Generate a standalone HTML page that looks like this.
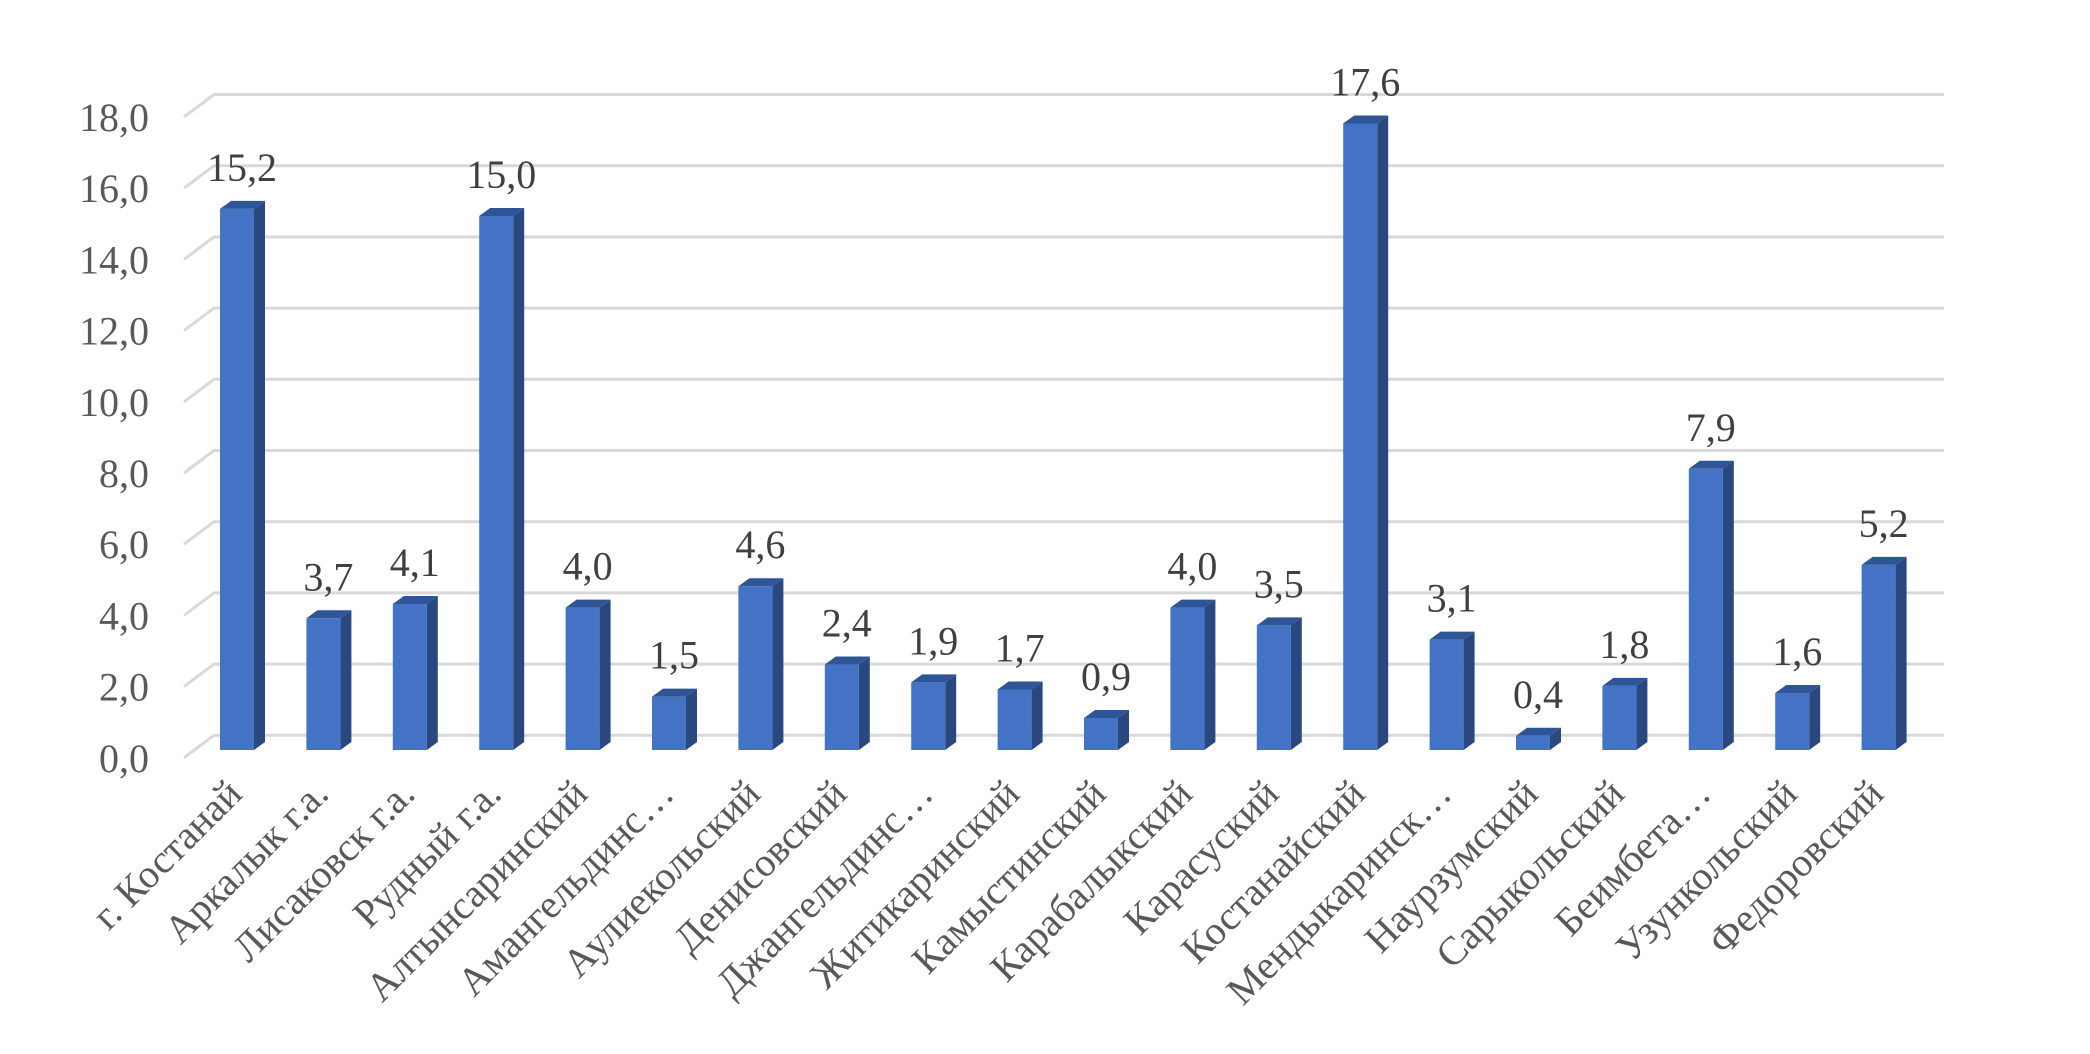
<!DOCTYPE html>
<html><head><meta charset="utf-8"><style>html,body{margin:0;padding:0;background:#fff;}svg{display:block;}</style></head>
<body>
<svg width="2090" height="1054" viewBox="0 0 2090 1054" xmlns="http://www.w3.org/2000/svg" font-family="Liberation Serif, serif">
<g id="grid" stroke="#d9d9d9" stroke-width="3" fill="none"></g>
<g id="yl" font-size="40" fill="#595959" text-anchor="end"></g>
<g id="bars"></g>
<g id="vl" font-size="40" fill="#404040" text-anchor="middle"></g>
<g id="xl" font-size="40" fill="#595959" text-anchor="end"></g>
<script>
var NS="http://www.w3.org/2000/svg";
function el(p,t,a,txt){var e=document.createElementNS(NS,t);for(var k in a)e.setAttribute(k,a[k]);if(txt!==undefined)e.textContent=txt;document.getElementById(p).appendChild(e);}
for(var k=0;k<=9;k++){var yb=94.5+k*71.2,yf=117+k*71.2;
el("grid","polyline",{points:"184,"+yf+" 214,"+yb+" 1944,"+yb});
el("yl","text",{x:149,y:yf+14},(18-2*k).toFixed(1).replace(".",","));}
var names=["г. Костанай","Аркалык г.а.","Лисаковск г.а.","Рудный г.а.","Алтынсаринский","Амангельдинс…","Аулиекольский","Денисовский","Джангельдинс…","Житикаринский","Камыстинский","Карабалыкский","Карасуский","Костанайский","Мендыкаринск…","Наурзумский","Сарыкольский","Беимбета…","Узункольский","Федоровский"];
var v=[15.2,3.7,4.1,15.0,4.0,1.5,4.6,2.4,1.9,1.7,0.9,4.0,3.5,17.6,3.1,0.4,1.8,7.9,1.6,5.2];
for(var i=0;i<20;i++){var x=220+i*86.4,b=750,t=b-v[i]*35.6;
el("bars","polygon",{points:(x+34)+","+t+" "+(x+45)+","+(t-8)+" "+(x+45)+","+(b-8)+" "+(x+34)+","+b,fill:"#2A4880"});
el("bars","polygon",{points:x+","+t+" "+(x+11)+","+(t-8)+" "+(x+45)+","+(t-8)+" "+(x+34)+","+t,fill:"#2F5597"});
el("bars","rect",{x:x,y:t,width:34,height:b-t,fill:"#4472C4"});
el("vl","text",{x:x+22,y:t-28},v[i].toFixed(1).replace(".",","));
var cx=x+24,cy=796;
el("xl","text",{x:cx,y:cy,transform:"rotate(-45 "+cx+" "+cy+")"},names[i]);}
</script>
</svg>
</body></html>
